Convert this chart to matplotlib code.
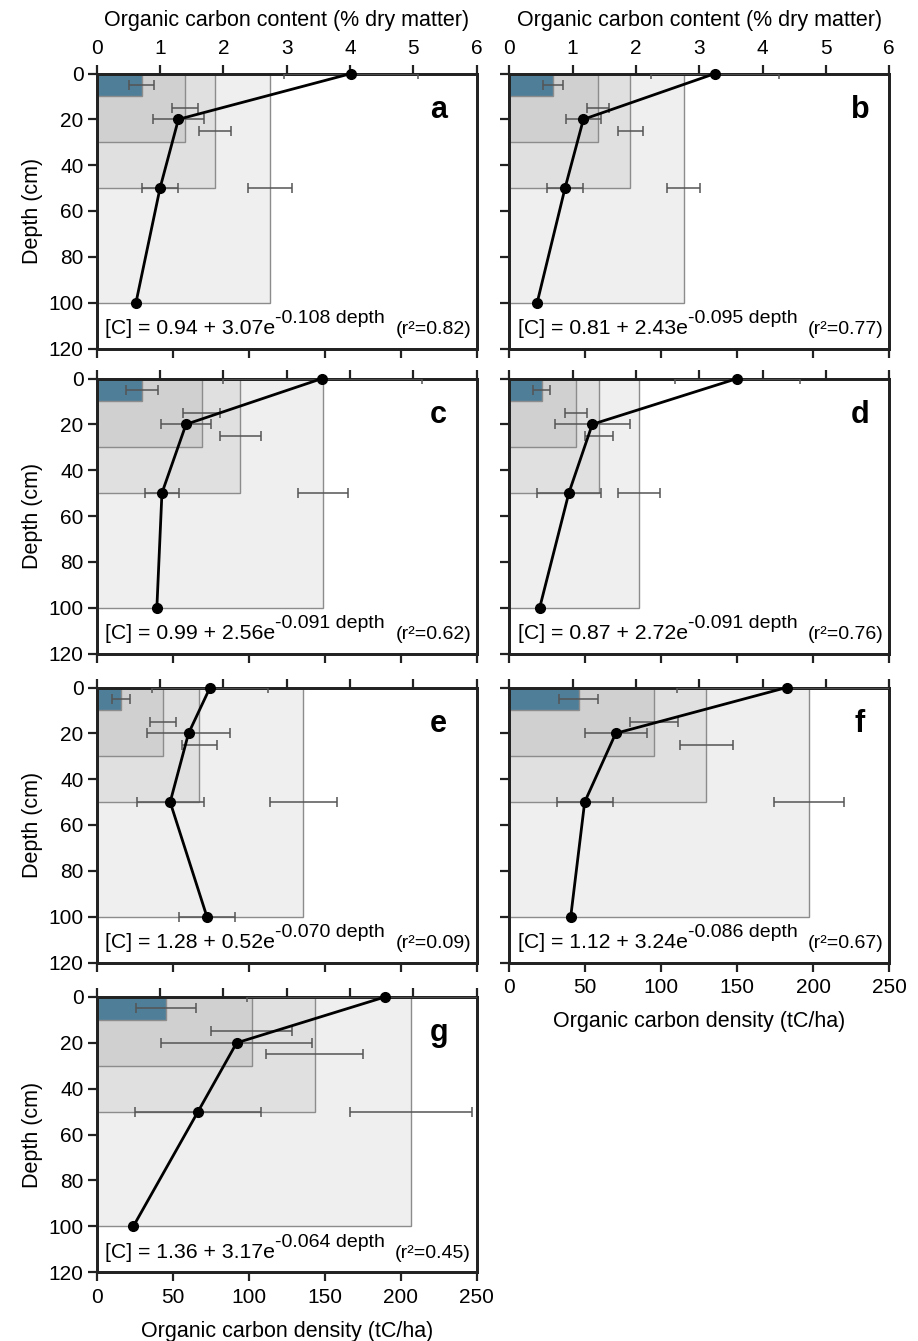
import numpy as np
import matplotlib
matplotlib.use("Agg")
import matplotlib.pyplot as plt

plt.rcParams['font.family'] = ['Liberation Sans', 'DejaVu Sans']

# ---------------- data ----------------
panels = ['a', 'b', 'c', 'd', 'e', 'f', 'g']
content_depths = [0, 20, 50, 100]          # cm
layer_depths = [10, 30, 50, 100]           # cumulative layer bottoms (cm)
layer_mid_depths = [5, 15, 25, 50]         # depth where density error bar sits

# organic carbon content (% dry matter) and its error
content_a = [4.02, 1.29, 1.00, 0.62]
content_err_a = [1.06, 0.40, 0.29, 0.0]
content_b = [3.25, 1.17, 0.88, 0.44]
content_err_b = [1.01, 0.27, 0.28, 0.0]
content_c = [3.56, 1.41, 1.03, 0.95]
content_err_c = [1.57, 0.40, 0.27, 0.0]
content_d = [3.60, 1.31, 0.94, 0.48]
content_err_d = [0.99, 0.59, 0.50, 0.0]
content_e = [1.79, 1.45, 1.16, 1.74]
content_err_e = [0.91, 0.66, 0.53, 0.445]
content_f = [4.38, 1.68, 1.19, 0.97]
content_err_f = [1.73, 0.49, 0.44, 0.0]
content_g = [4.55, 2.21, 1.60, 0.58]
content_err_g = [2.18, 1.19, 1.00, 0.0]

# cumulative organic carbon density (tC/ha) for 0-10, 0-30, 0-50, 0-100 cm
density_a = [29.6, 58.3, 77.8, 114.0]
density_err_a = [8.1, 8.5, 10.8, 14.4]
density_b = [29.0, 58.6, 79.6, 114.7]
density_err_b = [6.6, 7.2, 8.3, 11.0]
density_c = [29.6, 69.0, 94.5, 148.7]
density_err_c = [10.4, 12.3, 13.7, 16.4]
density_d = [21.3, 43.9, 59.2, 85.3]
density_err_d = [5.5, 7.3, 9.2, 13.7]
density_e = [15.8, 43.6, 67.5, 136.0]
density_err_e = [5.8, 8.8, 11.5, 22.3]
density_f = [45.7, 95.3, 129.7, 197.2]
density_err_f = [12.9, 15.8, 17.4, 23.3]
density_g = [45.6, 102.0, 143.4, 206.7]
density_err_g = [19.5, 26.6, 32.1, 40.1]

eq_base = ['0.94', '0.81', '0.99', '0.87', '1.28', '1.12', '1.36']
eq_amp = ['3.07', '2.43', '2.56', '2.72', '0.52', '3.24', '3.17']
eq_rate = ['0.108', '0.095', '0.091', '0.091', '0.070', '0.086', '0.064']
r2_values = ['0.82', '0.77', '0.62', '0.76', '0.09', '0.67', '0.45']

depth_ticks = [0, 20, 40, 60, 80, 100, 120]
content_ticks = [0, 1, 2, 3, 4, 5, 6]
density_ticks = [0, 50, 100, 150, 200, 250]

contents = [content_a, content_b, content_c, content_d, content_e, content_f, content_g]
content_errs = [content_err_a, content_err_b, content_err_c, content_err_d,
                content_err_e, content_err_f, content_err_g]
densities = [density_a, density_b, density_c, density_d, density_e, density_f, density_g]
density_errs = [density_err_a, density_err_b, density_err_c, density_err_d,
                density_err_e, density_err_f, density_err_g]

# ---------------- style ----------------
layer_colors = ['#4f7f98', '#d0d0d0', '#e0e0e0', '#efefef']
edge_col = '#8c8c8c'
err_col = '#555555'
spine_col = '#222222'
TICK_FS = 15
LABEL_FS = 15.5

W, H = 918, 1341
fig = plt.figure(figsize=(W / 100, H / 100), dpi=100)

col_x = [96.7, 509.3]
row_top = [73.5, 378.5, 687.5, 997.0]
ax_w, ax_h = 380.0, 275.0

for k, p in enumerate(panels):
    row, col = k // 2, k % 2
    x0 = col_x[col] / W
    y0 = 1 - (row_top[row] + ax_h) / H
    ax = fig.add_axes([x0, y0, ax_w / W, ax_h / H])
    ax.set_xlim(0, 250)
    ax.set_ylim(120, 0)

    dens = densities[k]
    derr = density_errs[k]
    order = [3, 2, 1, 0]
    ax.barh([layer_depths[i] / 2 for i in order], [dens[i] for i in order],
            height=[layer_depths[i] for i in order], left=0,
            color=[layer_colors[i] for i in order], edgecolor=edge_col,
            linewidth=1.0, zorder=1)
    ax.errorbar(dens, layer_mid_depths, xerr=derr, fmt='none', ecolor=err_col,
                elinewidth=1.1, capsize=3.5, capthick=1.1, zorder=3)

    ax.set_xticks(density_ticks)
    ax.set_yticks(depth_ticks)
    show_bottom = p in ('f', 'g')
    show_left = col == 0
    ax.tick_params(axis='x', direction='out', length=6.5, width=1.6, labelsize=TICK_FS,
                   bottom=True, top=False, labelbottom=show_bottom, color=spine_col, pad=5)
    ax.tick_params(axis='y', direction='out', length=6.5, width=1.6, labelsize=TICK_FS,
                   left=True, right=False, labelleft=show_left, color=spine_col, pad=3)
    if show_bottom:
        ax.set_xlabel('Organic carbon density (tC/ha)', fontsize=LABEL_FS, labelpad=10)
    if show_left:
        ax.set_ylabel('Depth (cm)', fontsize=LABEL_FS, labelpad=4)

    ax2 = ax.twiny()
    ax2.set_xlim(0, 6)
    ax2.set_xticks(content_ticks)
    cont = contents[k]
    cerr = content_errs[k]
    idx = [i for i in range(4) if cerr[i] > 0]
    ax2.errorbar([cont[i] for i in idx], [content_depths[i] for i in idx],
                 xerr=[cerr[i] for i in idx], fmt='none', ecolor=err_col,
                 elinewidth=1.1, capsize=3.5, capthick=1.1, zorder=3)
    ax2.plot(cont, content_depths, color='black', lw=2.0, marker='o', ms=7,
             zorder=5, clip_on=False)
    show_top = p in ('a', 'b')
    ax2.tick_params(axis='x', direction='out', length=6.5, width=1.6, labelsize=TICK_FS,
                    top=True, labeltop=show_top, color=spine_col, pad=5)
    if show_top:
        ax2.set_xlabel('Organic carbon content (% dry matter)', fontsize=LABEL_FS, labelpad=9)

    for a_ in (ax, ax2):
        for s in a_.spines.values():
            s.set_linewidth(2.0)
            s.set_color(spine_col)

    lx = 0.90 if col == 0 else 0.923
    ax.text(lx, 0.868, p, transform=ax.transAxes, fontsize=22, fontweight='bold',
            ha='center', va='center', zorder=6)

    t = ax.text(0.022, 0.052, '[C] = %s + %se' % (eq_base[k], eq_amp[k]),
                transform=ax.transAxes, fontsize=15.3, ha='left', va='baseline', zorder=6)
    ax.annotate('-%s depth' % eq_rate[k], xy=(1.0, 0.58), xycoords=t,
                fontsize=14, ha='left', va='bottom', zorder=6)
    ax.text(0.985, 0.052, '(r\u00b2=%s)' % r2_values[k], transform=ax.transAxes,
            fontsize=14, ha='right', va='baseline', zorder=6)

fig.savefig('out.png', dpi=100)
